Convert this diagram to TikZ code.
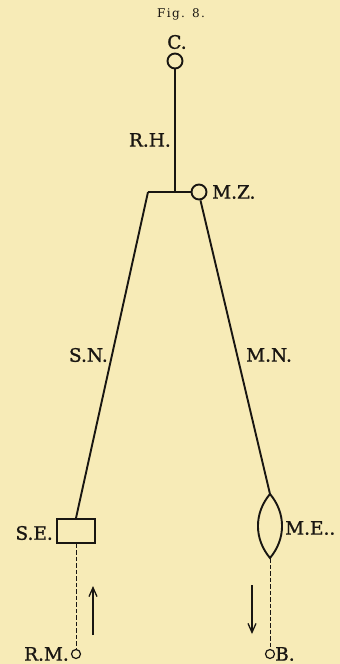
\documentclass[tikz,border=0pt]{standalone}
\usepackage{fontspec}
\setmainfont{DejaVu Serif}
\newfontfamily\labfont[FakeBold=1.2]{DejaVu Serif}
\usetikzlibrary{arrows.meta}
\definecolor{paper}{RGB}{247,235,183}
\definecolor{ink}{RGB}{25,22,18}
\begin{document}
\begin{tikzpicture}[x=1pt,y=-1pt,
  lab/.style={font=\labfont\fontsize{18.5}{20}\selectfont, text=ink, inner sep=0pt},
  wire/.style={draw=ink, line width=1.9pt},
  dwire/.style={draw=ink, line width=1pt, dash pattern=on 4.5pt off 2pt},
  ring/.style={circle, draw=ink, line width=1.9pt, minimum size=15pt, inner sep=0pt},
  sring/.style={circle, draw=ink, line width=1.2pt, minimum size=9pt, inner sep=0pt},
  flowarrow/.style={draw=ink, line width=1.3pt, -{Straight Barb[length=9pt,width=8pt]}}]
\fill[paper] (0,0) rectangle (340,664);
\useasboundingbox (0,0) rectangle (340,664);
\node[font=\fontsize{12}{13}\selectfont\addfontfeature{LetterSpace=12}, text=ink, inner sep=0pt] (fig) at (181,14) {Fig. 8.};
\node[ring] (C) at (175,61) {};
\node[lab] (Clab) at (177,42) {C.};
\node[ring] (MZ) at (199,192) {};
\node[lab, anchor=west] (MZlab) at (212,192) {M.Z.};
\coordinate (J) at (175,192);
\coordinate (L) at (148,192);
\node[draw=ink, line width=1.9pt, minimum width=38pt, minimum height=24pt, inner sep=0pt] (SE) at (76,531) {};
\node[lab, anchor=east] (SElab) at (53,533) {S.E.};
\coordinate (MEt) at (270,494);
\coordinate (MEb) at (270,558);
\draw[wire] (MEt) to[out=-130,in=130] (MEb) to[out=50,in=-50] (MEt);
\node[inner sep=0pt] (ME) at (270,526) {};
\node[lab, anchor=west] (MElab) at (285,528) {M.E..};
\node[sring] (RM) at (76,654) {};
\node[lab, anchor=east] (RMlab) at (69,654) {R.M.};
\node[sring] (B) at (270,654) {};
\node[lab, anchor=west] (Blab) at (275,654) {B.};
\draw[wire] (C.south) -- (J);
\draw[wire] (L) -- (MZ.west);
\draw[wire] (L) -- (SE.north);
\draw[wire] (MZ.-80) -- (MEt);
\node[lab, anchor=east] (RH) at (171,140) {R.H.};
\node[lab, anchor=east] (SN) at (108,355) {S.N.};
\node[lab, anchor=west] (MN) at (246,355) {M.N.};
\draw[dwire] (SE.south) -- (RM.north);
\draw[dwire] (MEb) -- (B.north);
\coordinate (a1s) at (93,635);
\coordinate (a1e) at (93,586);
\coordinate (a2s) at (252,585);
\coordinate (a2e) at (252,634);
\draw[flowarrow] (a1s) -- (a1e);
\draw[flowarrow] (a2s) -- (a2e);
\end{tikzpicture}
\end{document}
